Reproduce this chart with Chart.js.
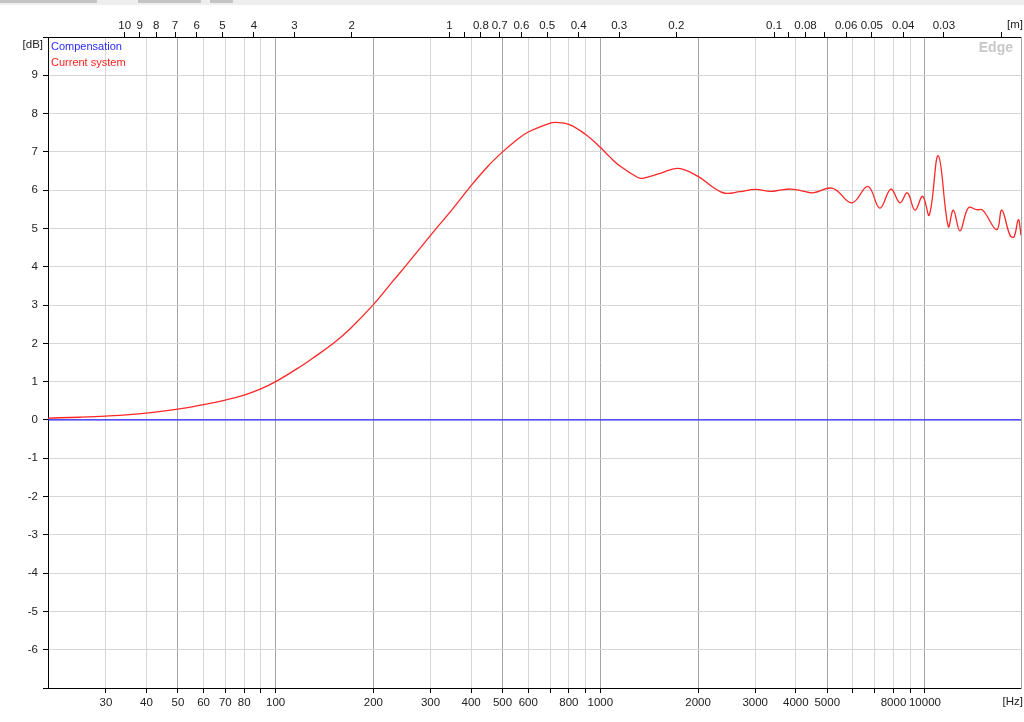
<!DOCTYPE html>
<html>
<head>
<meta charset="utf-8">
<title>Edge - frequency response</title>
<script src="https://cdn.jsdelivr.net/npm/chart.js@4.4.1/dist/chart.umd.min.js"></script>
<style>
    html, body { margin: 0; padding: 0; background: #fff; }
    #wrap { position: relative; width: 1024px; height: 722px; }
    #strip { position: absolute; left: 0; top: 0; width: 1024px; height: 5px; background: #eeeeee; }
    #strip span { position: absolute; top: 0; height: 3px; background: #c4c4c4; }
    canvas { position: absolute; left: 0; top: 0; }
</style>
</head>
<body>
<div id="wrap">
    <canvas id="myChart" width="1024" height="722"></canvas>
    <div id="strip">
        <span style="left:0;width:97px"></span>
        <span style="left:138px;width:63px"></span>
        <span style="left:210px;width:23px"></span>
    </div>
</div>
<script>
// frequency axis (Hz)
var freqMin = 19.9;
var freqMax = 19760;
var freqTicks = [30, 40, 50, 60, 70, 80, 90, 100, 200, 300, 400, 500, 600, 700, 800, 900,
    1000, 2000, 3000, 4000, 5000, 6000, 7000, 8000, 9000, 10000];
var freqNoLabel = [90, 700, 900, 6000, 7000, 9000];
var freqDark = [50, 100, 200, 500, 1000, 2000, 5000, 10000];

// wavelength axis on top (m)
var waveTicks = [10, 9, 8, 7, 6, 5, 4, 3, 2, 1, 0.9, 0.8, 0.7, 0.6, 0.5, 0.4, 0.3, 0.2,
    0.1, 0.09, 0.08, 0.07, 0.06, 0.05, 0.04, 0.03, 0.02];
var waveNoLabel = [0.9, 0.09, 0.07, 0.02];
var SPEED = 343;

// dB axis
var dbMin = -7;
var dbMax = 10;

// Compensation
var compFreq = [19.9, 19760];
var compDb = [0, 0];

// Current system
var curFreq = [19.9, 25, 30, 40, 50, 60, 70, 80, 90, 100, 121, 130, 152, 170, 200, 230, 253,
    300, 350, 400, 450, 500, 550, 600, 700, 731, 800, 900, 1000, 1069, 1150, 1304, 1350, 1530,
    1735, 2000, 2230, 2420, 2690, 3000, 3340, 3573, 3850, 4140, 4515, 5200, 5956, 6671, 7262,
    7850, 8375, 8823, 9316, 9838, 10310, 10990, 11800, 12230, 12820, 13600, 14430, 15060,
    16630, 17240, 18280, 18810, 19390, 19760];
var curDb = [0.05, 0.07, 0.1, 0.18, 0.28, 0.4, 0.52, 0.65, 0.81, 1.0, 1.43, 1.61, 2.03, 2.39,
    3.01, 3.63, 4.05, 4.82, 5.5, 6.12, 6.62, 7.0, 7.3, 7.52, 7.75, 7.77, 7.72, 7.46, 7.12,
    6.87, 6.63, 6.33, 6.31, 6.44, 6.57, 6.36, 6.07, 5.92, 5.96, 6.02, 5.97, 6.0, 6.03, 5.99,
    5.93, 6.05, 5.67, 6.1, 5.53, 6.03, 5.67, 5.93, 5.48, 5.84, 5.35, 6.9, 5.05, 5.48, 4.94,
    5.54, 5.49, 5.48, 4.97, 5.48, 4.82, 4.78, 5.23, 4.82];

function toPoints(xs, ys) {
    var pts = [];
    for (var i = 0; i < xs.length; i++) {
        pts.push({ x: xs[i], y: ys[i] });
    }
    return pts;
}

var tickFont = { family: 'Liberation Sans', size: 11.5 };

// unit labels, legend text and the watermark
var overlayText = {
    id: 'overlayText',
    afterDraw: function (chart) {
        var c = chart.ctx;
        var area = chart.chartArea;
        c.save();
        c.font = '11px "Liberation Sans"';
        c.textBaseline = 'middle';

        c.textAlign = 'left';
        c.fillStyle = '#2a2aff';
        c.fillText('Compensation', area.left + 3, 47);
        c.fillStyle = '#ff2020';
        c.fillText('Current system', area.left + 3, 63);

        c.font = '11.5px "Liberation Sans"';
        c.fillStyle = '#222';
        c.textAlign = 'right';
        c.fillText('[dB]', 43, 45);
        c.fillText('[Hz]', 1023, 702);
        c.fillText('[m]', 1023, 25);

        c.font = 'bold 14px "Liberation Sans"';
        c.fillStyle = '#c8c8c8';
        c.fillText('Edge', 1013, 48);
        c.restore();
    }
};

var ctx = document.getElementById('myChart');

var data = {
    datasets: [
        {
            label: 'Compensation',
            data: toPoints(compFreq, compDb),
            borderColor: '#2222ff',
            borderWidth: 1.2,
            pointRadius: 0
        }, {
            label: 'Current system',
            data: toPoints(curFreq, curDb),
            borderColor: '#ff2626',
            borderWidth: 1.3,
            pointRadius: 0,
            tension: 0.4
        }
    ]
};

var config = {
    type: 'line',
    data: data,
    plugins: [overlayText],
    options: {
        responsive: false,
        animation: false,
        devicePixelRatio: 1,
        layout: { padding: { left: 0, right: 3, top: 0, bottom: 0 } },
        plugins: {
            legend: { display: false },
            tooltip: { enabled: false }
        },
        scales: {
            x: {
                type: 'logarithmic',
                position: 'bottom',
                min: freqMin,
                max: freqMax,
                afterBuildTicks: function (scale) {
                    scale.ticks = freqTicks.map(function (v) { return { value: v }; });
                },
                afterFit: function (scale) { scale.height = 34; },
                ticks: {
                    autoSkip: false,
                    maxRotation: 0,
                    padding: 3,
                    color: '#222',
                    font: tickFont,
                    callback: function (value, index) {
                        var v = freqTicks[index];
                        return freqNoLabel.indexOf(v) >= 0 ? '' : String(v);
                    }
                },
                grid: {
                    color: function (context) {
                        var v = context.tick ? Math.round(context.tick.value) : 0;
                        return freqDark.indexOf(v) >= 0 ? '#a4a4a4' : '#d6d6d6';
                    },
                    tickColor: '#000',
                    tickLength: 5
                },
                border: { display: true, color: '#000' }
            },
            x2: {
                type: 'logarithmic',
                position: 'top',
                min: freqMin,
                max: freqMax,
                afterBuildTicks: function (scale) {
                    scale.ticks = waveTicks.map(function (w) { return { value: SPEED / w }; });
                },
                afterFit: function (scale) { scale.height = 37; },
                ticks: {
                    autoSkip: false,
                    maxRotation: 0,
                    padding: -1,
                    color: '#222',
                    font: tickFont,
                    callback: function (value, index) {
                        var w = waveTicks[index];
                        return waveNoLabel.indexOf(w) >= 0 ? '' : String(w);
                    }
                },
                grid: {
                    drawOnChartArea: false,
                    tickColor: '#000',
                    tickLength: 5
                },
                border: { display: true, color: '#000' }
            },
            y: {
                min: dbMin,
                max: dbMax,
                afterFit: function (scale) { scale.width = 48; },
                ticks: {
                    stepSize: 1,
                    padding: 5,
                    color: '#222',
                    font: tickFont,
                    callback: function (value) {
                        return (value === dbMin || value === dbMax) ? '' : String(value);
                    }
                },
                grid: {
                    color: '#d6d6d6',
                    tickColor: '#000',
                    tickLength: 5
                },
                border: { display: true, color: '#000' }
            },
            // right edge frame
            y2: {
                position: 'right',
                min: dbMin,
                max: dbMax,
                afterFit: function (scale) { scale.width = 0; },
                ticks: { display: false },
                grid: { drawOnChartArea: false, drawTicks: false },
                border: { display: true, color: '#a4a4a4' }
            }
        }
    }
};

myChart = new Chart(ctx, config);
</script>
</body>
</html>
